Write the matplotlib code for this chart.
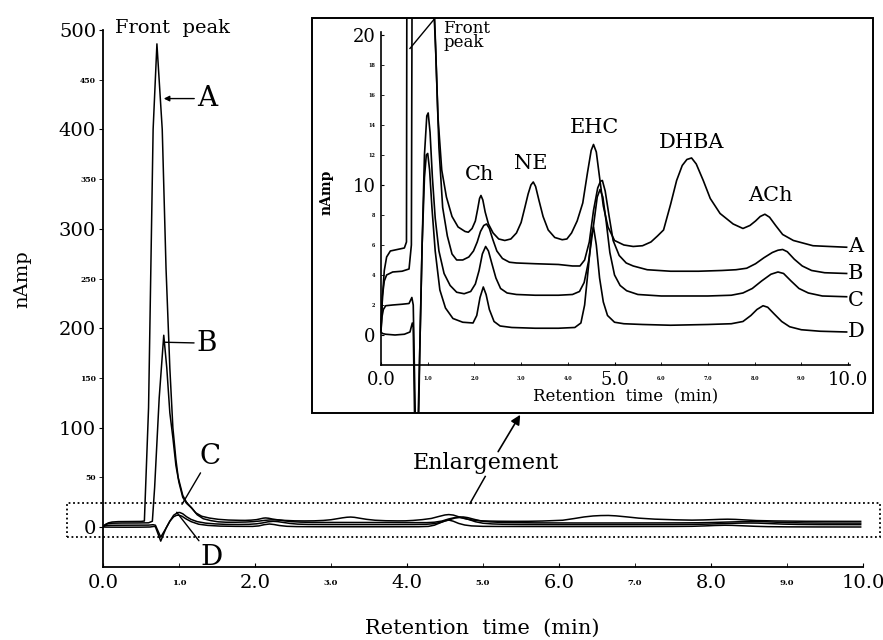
import matplotlib
matplotlib.use("Agg")
import matplotlib.pyplot as plt
from matplotlib.patches import Rectangle

plt.rcParams['font.family'] = 'DejaVu Serif'

# chromatograms: (retention time min, current nAmp)
trace_a = [(0.00, 0.3), (0.03, 2.5), (0.07, 4.3), (0.12, 5.2), (0.20, 5.6), (0.35, 5.7), (0.50, 5.8),
           (0.545, 6.2), (0.60, 120), (0.66, 400), (0.71, 486), (0.78, 400), (0.83, 260), (0.88, 160),
           (0.92, 100), (0.96, 68), (0.99, 50), (1.05, 32), (1.10, 25), (1.16, 20), (1.22, 14.5),
           (1.30, 11), (1.40, 9.2), (1.52, 7.9), (1.65, 7.2), (1.80, 6.9), (1.87, 6.85), (1.95, 7.1),
           (2.02, 7.6), (2.07, 8.4), (2.11, 9.1), (2.14, 9.3), (2.18, 9.0), (2.23, 8.2), (2.30, 7.4),
           (2.40, 6.8), (2.52, 6.4), (2.65, 6.3), (2.78, 6.4), (2.90, 6.8), (3.00, 7.5), (3.08, 8.5),
           (3.15, 9.4), (3.21, 10.0), (3.26, 10.2), (3.31, 9.9), (3.38, 9.0), (3.47, 7.9), (3.58, 7.0),
           (3.72, 6.5), (3.88, 6.35), (3.98, 6.4), (4.08, 6.8), (4.20, 7.6), (4.32, 8.8), (4.42, 10.8),
           (4.50, 12.3), (4.55, 12.7), (4.61, 12.2), (4.68, 10.5), (4.76, 8.6), (4.86, 7.2), (5.00, 6.3),
           (5.20, 6.0), (5.40, 5.9), (5.60, 5.95), (5.78, 6.2), (5.92, 6.6), (6.05, 7.0), (6.20, 8.7),
           (6.33, 10.3), (6.45, 11.3), (6.55, 11.7), (6.65, 11.8), (6.75, 11.4), (6.90, 10.3),
           (7.05, 9.1), (7.26, 8.1), (7.54, 7.4), (7.75, 7.1), (7.90, 7.3), (8.02, 7.6), (8.12, 7.9),
           (8.22, 8.05), (8.32, 7.85), (8.45, 7.3), (8.60, 6.7), (8.83, 6.3), (9.25, 5.95), (9.60, 5.9),
           (9.97, 5.85)]

trace_b = [(0.00, 0.5), (0.03, 2.6), (0.07, 3.6), (0.12, 4.0), (0.25, 4.2), (0.45, 4.25), (0.60, 4.4),
           (0.65, 6.0), (0.68, 40), (0.74, 130), (0.80, 193), (0.84, 160), (0.88, 115), (0.92, 90),
           (0.96, 62), (1.00, 45), (1.05, 30), (1.10, 24), (1.17, 19), (1.24, 12.5), (1.32, 8.5),
           (1.42, 6.6), (1.52, 5.4), (1.62, 5.0), (1.75, 5.0), (1.88, 5.2), (1.98, 5.6), (2.06, 6.2),
           (2.13, 6.9), (2.20, 7.3), (2.26, 7.4), (2.32, 7.1), (2.39, 6.4), (2.48, 5.6), (2.60, 5.1),
           (2.75, 4.85), (2.90, 4.8), (3.30, 4.75), (3.80, 4.7), (4.10, 4.6), (4.26, 4.6), (4.36, 5.0),
           (4.46, 6.2), (4.55, 8.3), (4.64, 9.8), (4.70, 10.25), (4.74, 10.3), (4.80, 9.6), (4.88, 8.0),
           (4.97, 6.3), (5.10, 5.3), (5.25, 4.8), (5.40, 4.6), (5.70, 4.35), (6.20, 4.25), (6.80, 4.25),
           (7.30, 4.3), (7.60, 4.35), (7.83, 4.45), (8.02, 4.75), (8.20, 5.15), (8.38, 5.5), (8.50, 5.65),
           (8.60, 5.7), (8.70, 5.55), (8.85, 5.05), (9.02, 4.6), (9.22, 4.3), (9.50, 4.15), (9.97, 4.1)]

trace_c = [(0.00, 0.3), (0.02, 1.2), (0.05, 1.7), (0.10, 1.95), (0.25, 2.0), (0.45, 2.05), (0.60, 2.1),
           (0.66, 2.5), (0.69, 2.0), (0.76, -10), (0.83, -1), (0.88, 6), (0.93, 12), (0.98, 14.6),
           (1.01, 14.8), (1.05, 13.5), (1.10, 10.5), (1.16, 7.8), (1.24, 5.6), (1.35, 4.1), (1.48, 3.3),
           (1.62, 2.85), (1.78, 2.75), (1.92, 2.9), (2.02, 3.4), (2.10, 4.3), (2.17, 5.4), (2.24, 5.9),
           (2.30, 5.6), (2.37, 4.8), (2.46, 3.8), (2.56, 3.1), (2.70, 2.8), (2.90, 2.7), (3.30, 2.65),
           (3.80, 2.65), (4.10, 2.7), (4.25, 2.9), (4.35, 3.5), (4.45, 5.0), (4.55, 7.3), (4.63, 9.2),
           (4.69, 9.7), (4.75, 9.2), (4.82, 7.6), (4.90, 5.5), (5.00, 4.0), (5.12, 3.3), (5.26, 2.95),
           (5.50, 2.7), (6.00, 2.6), (6.50, 2.6), (7.00, 2.6), (7.50, 2.65), (7.75, 2.8), (7.95, 3.1),
           (8.15, 3.6), (8.35, 4.05), (8.50, 4.2), (8.62, 4.1), (8.78, 3.6), (8.95, 3.1), (9.15, 2.8),
           (9.45, 2.6), (9.97, 2.55)]

trace_d = [(0.00, 0.2), (0.03, 0.1), (0.10, 0.05), (0.30, 0.0), (0.50, 0.05), (0.62, 0.2), (0.67, 0.8),
           (0.69, 0.5), (0.76, -14), (0.83, -1), (0.88, 6), (0.93, 10.5), (0.97, 12.0), (1.00, 12.1),
           (1.04, 11.0), (1.09, 8.5), (1.16, 5.6), (1.26, 3.0), (1.38, 1.8), (1.54, 1.1), (1.75, 0.85),
           (1.97, 0.8), (2.05, 1.3), (2.12, 2.5), (2.19, 3.2), (2.25, 2.7), (2.32, 1.7), (2.42, 0.9),
           (2.55, 0.6), (2.80, 0.5), (3.30, 0.45), (3.80, 0.45), (4.15, 0.5), (4.28, 0.8), (4.36, 2.0),
           (4.44, 4.5), (4.50, 6.5), (4.55, 7.2), (4.61, 6.0), (4.68, 3.8), (4.76, 2.2), (4.85, 1.3),
           (5.00, 0.85), (5.20, 0.75), (5.60, 0.7), (6.20, 0.65), (7.00, 0.7), (7.50, 0.75), (7.75, 0.9),
           (7.92, 1.3), (8.05, 1.7), (8.18, 1.95), (8.28, 1.85), (8.42, 1.4), (8.58, 0.9), (8.75, 0.55),
           (9.00, 0.35), (9.40, 0.25), (9.97, 0.2)]

traces = [trace_a, trace_b, trace_c, trace_d]
trace_names = ['A', 'B', 'C', 'D']

main_xticks = [0, 2, 4, 6, 8, 10]
main_xminor = [1, 3, 5, 7, 9]
main_yticks = [0, 100, 200, 300, 400, 500]
main_yminor = [50, 150, 250, 350, 450]

# inset peaks: name, time, label height
peak_names = ['Ch', 'NE', 'EHC', 'DHBA', 'ACh']
peak_times = [2.12, 3.21, 4.58, 6.64, 8.33]
peak_label_y = [10.7, 11.4, 13.8, 12.8, 9.3]
inset_end_y = [5.9, 4.1, 2.3, 0.2]

fig = plt.figure(figsize=(8.83, 6.40), dpi=100)

# ---- main chromatogram
ax = fig.add_axes([0.1166, 0.1141, 0.8607, 0.8391])
for tr in traces:
    t, y = zip(*tr)
    ax.plot(t, y, color='black', lw=1.1)
ax.set_xlim(0, 10)
ax.set_ylim(-40, 500)
for s in ['top', 'right']:
    ax.spines[s].set_visible(False)
for s in ['left', 'bottom']:
    ax.spines[s].set_linewidth(1.3)

ax.set_xticks(main_xticks)
ax.set_xticklabels(['%.1f' % v for v in main_xticks], fontsize=14)
ax.set_xticks(main_xminor, minor=True)
ax.set_xticklabels(['%.1f' % v for v in main_xminor], minor=True, fontsize=6, fontweight='bold')
ax.set_yticks(main_yticks)
ax.set_yticklabels([str(v) for v in main_yticks], fontsize=14)
ax.set_yticks(main_yminor, minor=True)
ax.set_yticklabels([str(v) for v in main_yminor], minor=True, fontsize=5.5, fontweight='bold')
ax.tick_params(axis='x', which='major', direction='in', length=3, pad=5)
ax.tick_params(axis='x', which='minor', direction='in', length=3, pad=9)
ax.tick_params(axis='y', which='both', direction='out', length=3, pad=2)

fig.text(22 / 883, 1 - 279 / 640, 'nAmp', rotation=90, fontsize=14, ha='center', va='center')
fig.text(482 / 883, 1 - 628 / 640, 'Retention  time  (min)', fontsize=15, ha='center', va='center')

ax.text(0.16, 497, 'Front  peak', fontsize=14, ha='left', va='baseline', clip_on=False)

ax.annotate('A', xy=(0.80, 431), xytext=(1.37, 431), fontsize=20, ha='center', va='center',
            arrowprops=dict(arrowstyle='-|>', lw=1.0, color='black', mutation_scale=8, shrinkA=0, shrinkB=0))
ax.annotate('B', xy=(0.80, 186), xytext=(1.37, 185), fontsize=20, ha='center', va='center',
            arrowprops=dict(arrowstyle='-', lw=1.0, color='black', shrinkA=0, shrinkB=0))
ax.annotate('C', xy=(1.04, 23), xytext=(1.41, 71), fontsize=20, ha='center', va='center',
            arrowprops=dict(arrowstyle='-', lw=1.0, color='black', shrinkA=0, shrinkB=0))
ax.annotate('D', xy=(0.97, 15), xytext=(1.43, -30), fontsize=20, ha='center', va='center',
            arrowprops=dict(arrowstyle='-', lw=1.0, color='black', shrinkA=0, shrinkB=0))

# dotted box around the enlarged region
ax.add_patch(Rectangle((-0.47, -10), 10.69, 34, fill=False, ls=(0, (1, 1.5)), lw=1.3,
                       edgecolor='black', clip_on=False))
ax.plot([4.83, 5.03], [24, 51], color='black', lw=1.1)
ax.text(5.04, 65, 'Enlargement', fontsize=16, ha='center', va='center')
ax.annotate('', xy=(5.49, 113), xytext=(5.20, 76),
            arrowprops=dict(arrowstyle='-|>', lw=1.2, color='black', mutation_scale=14, shrinkA=0, shrinkB=0))

# ---- inset (enlargement)
axin = fig.add_axes([312 / 883, 227 / 640, 561 / 883, 395 / 640])
for tr in traces:
    t, y = zip(*tr)
    axin.plot(t, y, color='black', lw=1.2)
axin.set_xlim(-1.478, 10.535)
axin.set_ylim(-5.2, 21.13)
axin.spines['top'].set_visible(False)
axin.spines['right'].set_visible(False)
axin.spines['left'].set_position(('data', 0))
axin.spines['left'].set_bounds(-2, 20.2)
axin.spines['bottom'].set_position(('data', -2))
axin.spines['bottom'].set_bounds(0, 10.05)
for s in ['left', 'bottom']:
    axin.spines[s].set_linewidth(1.2)
axin.add_patch(Rectangle((0, 0), 1, 1, transform=axin.transAxes, fill=False, lw=1.4,
                         edgecolor='black', clip_on=False))

axin.set_xticks([0, 5, 10])
axin.set_xticklabels(['0.0', '5.0', '10.0'], fontsize=13)
axin.set_xticks([1, 2, 3, 4, 6, 7, 8, 9], minor=True)
axin.set_xticklabels(['%d.0' % v for v in [1, 2, 3, 4, 6, 7, 8, 9]], minor=True, fontsize=3.5,
                     fontweight='bold')
axin.set_yticks([0, 10, 20])
axin.set_yticklabels(['0', '10', '20'], fontsize=13)
axin.set_yticks([2, 4, 6, 8, 12, 14, 16, 18], minor=True)
axin.set_yticklabels([str(v) for v in [2, 4, 6, 8, 12, 14, 16, 18]], minor=True, fontsize=3.5,
                     fontweight='bold')
axin.tick_params(axis='x', which='major', direction='in', length=2, pad=4)
axin.tick_params(axis='x', which='minor', direction='in', length=2, pad=8)
axin.tick_params(axis='y', which='both', direction='in', length=2, pad=4)

axin.text(-1.16, 9.5, 'nAmp', rotation=90, fontsize=10, fontweight='bold', ha='center', va='center')
fig.text(626 / 883, 1 - 397 / 640, 'Retention  time  (min)', fontsize=12, ha='center', va='center')

axin.text(1.33, 21.0, 'Front\npeak', fontsize=12, ha='left', va='top', linespacing=0.8)
axin.plot([0.62, 1.16], [19.1, 21.13], color='black', lw=1.0)

for name, t, y in zip(peak_names, peak_times, peak_label_y):
    axin.text(t, y, name, fontsize=15, ha='center', va='center')
for name, y in zip(trace_names, inset_end_y):
    axin.text(10.0, y, name, fontsize=15, ha='left', va='center')

fig.savefig('out.png', dpi=100)
